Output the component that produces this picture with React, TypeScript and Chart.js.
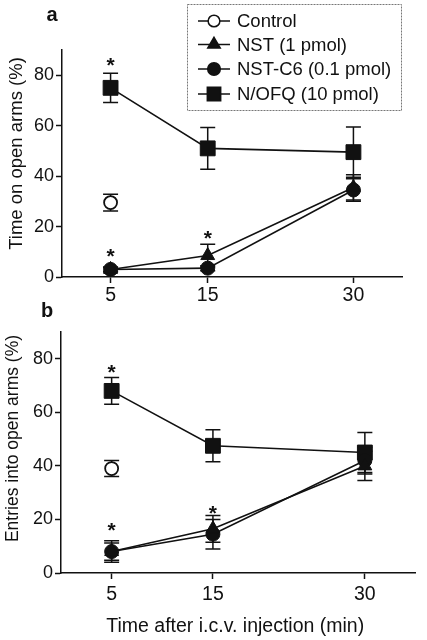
import React, { useEffect, useRef } from 'react';
import { Chart, registerables } from 'chart.js';

Chart.register(...registerables);

const FONT = '"Liberation Sans", Arial, Helvetica, sans-serif';
const INK = '#111';

// ---- shared categories / ticks ----
const times = [5, 15, 30];
const controlTimes = [5];
const xTickValues = [5, 15, 30];
const yTickValues = [0, 20, 40, 60, 80];
const seriesNames = ['Control', 'NST (1 pmol)', 'NST-C6 (0.1 pmol)', 'N/OFQ (10 pmol)'];

// ---- panel a: time on open arms (%) ----
const timeControl = [29.5];
const timeControlSem = [3.3];
const timeNST = [3, 8.5, 35.5];
const timeNSTSem = [1, 4.5, 5];
const timeNSTC6 = [3, 3.5, 34.5];
const timeNSTC6Sem = [0.8, 1, 4.5];
const timeNOFQ = [75, 51, 49.5];
const timeNOFQSem = [5.8, 8.3, 10];
const timeStarTimes = [5, 5, 15];
const timeStarLevels = [86, 10.5, 17.5];

// ---- panel b: entries into open arms (%) ----
const entryControl = [39];
const entryControlSem = [3];
const entryNST = [8, 16.5, 40];
const entryNSTSem = [4, 5, 5.5];
const entryNSTC6 = [8, 14.5, 42];
const entryNSTC6Sem = [3.2, 5.5, 5];
const entryNOFQ = [68, 47.5, 45];
const entryNOFQSem = [5, 6, 7.5];
const entryStarTimes = [5, 5, 15];
const entryStarLevels = [77, 18, 24.5];

// ---- styles ----
const pointStyles = ['circle', 'triangle', 'circle', 'rect'];
const pointRadii = [6.5, 8, 7, 10.5];
const pointFills = ['#fff', INK, INK, INK];

type Spec = {
  letter: string;
  letterX: number;
  letterY: number;
  yTitle: string;
  yTitleX: number;
  yTitleShift: number;
  yTitleSize: number;
  xTitle?: string;
  xTitleY?: number;
  legend: boolean;
  values: number[][];
  errors: number[][];
  starX: number[];
  starY: number[];
  padTop: number;
  padRight: number;
  padBottom: number;
  xAxisH: number;
  yAxisW: number;
  xTickPad: number;
};

function drawMarker(ctx: CanvasRenderingContext2D, style: string, x: number, y: number, r: number, fill: string) {
  ctx.beginPath();
  if (style === 'circle') {
    ctx.arc(x, y, r, 0, Math.PI * 2);
  } else if (style === 'rect') {
    const s = r * Math.SQRT1_2;
    ctx.rect(x - s, y - s, 2 * s, 2 * s);
  } else {
    for (let k = 0; k < 3; k++) {
      const a = (k * 2 * Math.PI) / 3;
      const px = x + Math.sin(a) * r;
      const py = y - Math.cos(a) * r;
      if (k === 0) ctx.moveTo(px, py);
      else ctx.lineTo(px, py);
    }
    ctx.closePath();
  }
  ctx.fillStyle = fill;
  ctx.fill();
  ctx.stroke();
}

function makeDecor(spec: Spec) {
  return {
    id: 'decor_' + spec.letter,
    beforeDatasetsDraw(chart: any) {
      const ctx: CanvasRenderingContext2D = chart.ctx;
      const ys = chart.scales.y;
      ctx.save();
      ctx.strokeStyle = INK;
      ctx.lineWidth = 1.5;
      spec.errors.forEach((errs, di) => {
        const meta = chart.getDatasetMeta(di);
        const vals = spec.values[di];
        meta.data.forEach((el: any, j: number) => {
          const v = vals[j];
          const e = errs[j];
          const x = el.x;
          const t = ys.getPixelForValue(v + e);
          const b = ys.getPixelForValue(v - e);
          ctx.beginPath();
          ctx.moveTo(x, t);
          ctx.lineTo(x, b);
          ctx.moveTo(x - 7.5, t);
          ctx.lineTo(x + 7.5, t);
          ctx.moveTo(x - 7.5, b);
          ctx.lineTo(x + 7.5, b);
          ctx.stroke();
        });
      });
      ctx.restore();
    },
    afterDraw(chart: any) {
      const ctx: CanvasRenderingContext2D = chart.ctx;
      const xs = chart.scales.x;
      const ys = chart.scales.y;
      const area = chart.chartArea;
      ctx.save();
      ctx.fillStyle = INK;

      // significance asterisks
      const starSize = 21;
      ctx.font = `bold ${starSize}px ${FONT}`;
      ctx.textAlign = 'center';
      ctx.textBaseline = 'alphabetic';
      spec.starX.forEach((sx, i) => {
        const px = xs.getPixelForValue(sx);
        const py = ys.getPixelForValue(spec.starY[i]);
        ctx.fillText('*', px, py + starSize * 0.58);
      });

      // panel letter
      ctx.font = `bold 20px ${FONT}`;
      ctx.textBaseline = 'middle';
      ctx.fillText(spec.letter, spec.letterX, spec.letterY);

      // y title
      ctx.save();
      ctx.translate(spec.yTitleX, (area.top + area.bottom) / 2 + spec.yTitleShift);
      ctx.rotate(-Math.PI / 2);
      ctx.font = `${spec.yTitleSize}px ${FONT}`;
      ctx.fillText(spec.yTitle, 0, 0);
      ctx.restore();

      // x title
      if (spec.xTitle) {
        ctx.font = `19.5px ${FONT}`;
        ctx.fillText(spec.xTitle, (area.left + area.right) / 2 - 3, spec.xTitleY as number);
      }

      // legend
      if (spec.legend) {
        ctx.strokeStyle = '#777';
        ctx.lineWidth = 1;
        ctx.setLineDash([2, 1]);
        ctx.strokeRect(187.5, 4.5, 214, 106);
        ctx.setLineDash([]);
        const rows = [21, 44.5, 69, 94];
        ctx.strokeStyle = INK;
        ctx.lineWidth = 1.5;
        seriesNames.forEach((name, i) => {
          const y = rows[i];
          ctx.beginPath();
          ctx.moveTo(198, y);
          ctx.lineTo(230, y);
          ctx.stroke();
          drawMarker(ctx, pointStyles[i], 214, y, pointRadii[i] * 0.9, pointFills[i]);
          ctx.fillStyle = INK;
          ctx.font = `18.5px ${FONT}`;
          ctx.textAlign = 'left';
          ctx.textBaseline = 'middle';
          ctx.fillText(name, 237, y + 1);
        });
      }
      ctx.restore();
    },
  };
}

function makeConfig(spec: Spec): any {
  const xsFor = (i: number) => (i === 0 ? controlTimes : times);
  const datasets = spec.values.map((vals, i) => ({
    label: seriesNames[i],
    data: vals.map((v, j) => ({ x: xsFor(i)[j], y: v })),
    showLine: i !== 0,
    borderColor: INK,
    borderWidth: 1.6,
    pointStyle: pointStyles[i],
    pointRadius: pointRadii[i],
    pointBackgroundColor: pointFills[i],
    pointBorderColor: INK,
    pointBorderWidth: i === 0 ? 1.8 : 1,
    tension: 0,
    fill: false,
  }));
  return {
    type: 'line',
    data: { datasets },
    options: {
      responsive: false,
      animation: false,
      layout: { padding: { top: spec.padTop, right: spec.padRight, bottom: spec.padBottom, left: 0 } },
      plugins: { legend: { display: false }, tooltip: { enabled: false } },
      scales: {
        x: {
          type: 'linear',
          min: 0,
          max: 35,
          afterBuildTicks: (s: any) => {
            s.ticks = xTickValues.map((v) => ({ value: v }));
          },
          afterFit: (s: any) => {
            s.height = spec.xAxisH;
          },
          grid: { display: true, drawOnChartArea: false, drawTicks: true, tickLength: 6, tickColor: INK, tickWidth: 1.5 },
          border: { display: true, color: INK, width: 1.5 },
          ticks: { color: INK, font: { family: FONT, size: 19.5 }, padding: spec.xTickPad, maxRotation: 0, autoSkip: false },
        },
        y: {
          type: 'linear',
          min: 0,
          max: 90,
          afterBuildTicks: (s: any) => {
            s.ticks = yTickValues.map((v) => ({ value: v }));
          },
          afterFit: (s: any) => {
            s.width = spec.yAxisW;
          },
          grid: { display: true, drawOnChartArea: false, drawTicks: true, tickLength: 6, tickColor: INK, tickWidth: 1.5 },
          border: { display: true, color: INK, width: 1.5 },
          ticks: { color: INK, font: { family: FONT, size: 18 }, padding: 2, autoSkip: false },
        },
      },
    },
    plugins: [makeDecor(spec)],
  };
}

const specA: Spec = {
  letter: 'a',
  letterX: 52,
  letterY: 15,
  yTitle: 'Time on open arms (%)',
  yTitleX: 17,
  yTitleShift: -10,
  yTitleSize: 18.5,
  legend: true,
  values: [timeControl, timeNST, timeNSTC6, timeNOFQ],
  errors: [timeControlSem, timeNSTSem, timeNSTC6Sem, timeNOFQSem],
  starX: timeStarTimes,
  starY: timeStarLevels,
  padTop: 50,
  padRight: 25,
  padBottom: 334,
  xAxisH: 29,
  yAxisW: 62,
  xTickPad: 1,
};

const specB: Spec = {
  letter: 'b',
  letterX: 47,
  letterY: 311,
  yTitle: 'Entries into open arms (%)',
  yTitleX: 13,
  yTitleShift: -14,
  yTitleSize: 17.5,
  xTitle: 'Time after i.c.v. injection (min)',
  xTitleY: 627,
  legend: false,
  values: [entryControl, entryNST, entryNSTC6, entryNOFQ],
  errors: [entryControlSem, entryNSTSem, entryNSTC6Sem, entryNOFQSem],
  starX: entryStarTimes,
  starY: entryStarLevels,
  padTop: 332,
  padRight: 4,
  padBottom: 0,
  xAxisH: 67,
  yAxisW: 61,
  xTickPad: 4,
};

export default function App() {
  const refA = useRef<HTMLCanvasElement | null>(null);
  const refB = useRef<HTMLCanvasElement | null>(null);

  useEffect(() => {
    const charts: Chart[] = [];
    if (refA.current) charts.push(new Chart(refA.current, makeConfig(specA)));
    if (refB.current) charts.push(new Chart(refB.current, makeConfig(specB)));
    return () => charts.forEach((c) => c.destroy());
  }, []);

  const cstyle: React.CSSProperties = { position: 'absolute', left: 0, top: 0, width: 427, height: 640 };
  return (
    <div style={{ position: 'absolute', left: 0, top: 0, width: 427, height: 640, background: '#fff' }}>
      <canvas ref={refA} width={427} height={640} style={cstyle} />
      <canvas ref={refB} width={427} height={640} style={cstyle} />
    </div>
  );
}
